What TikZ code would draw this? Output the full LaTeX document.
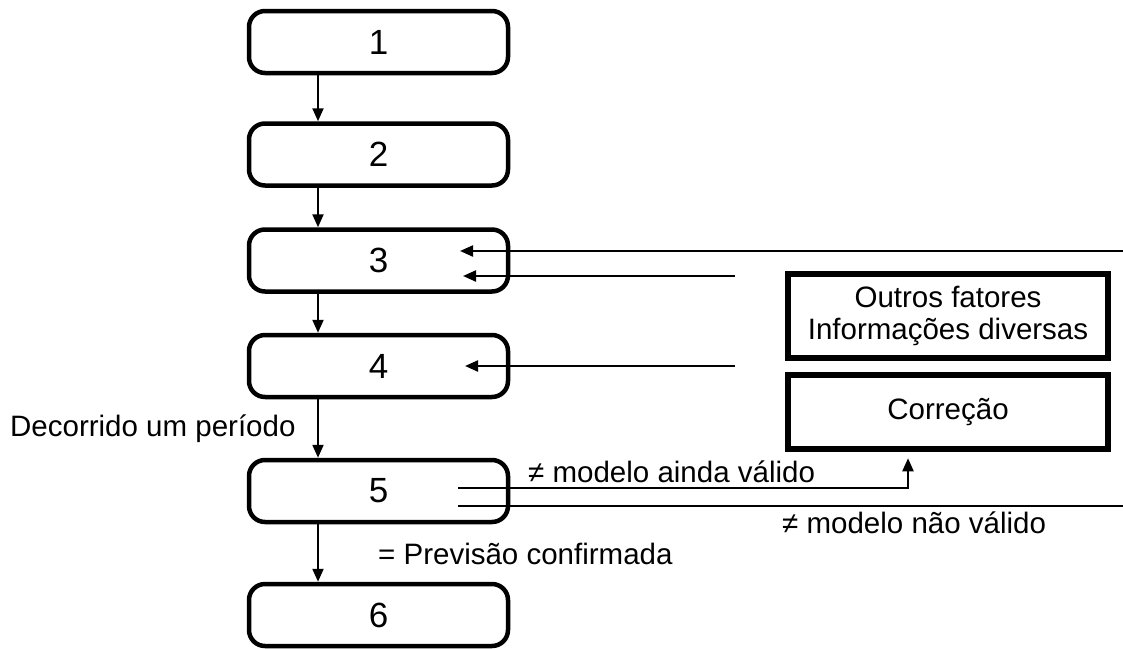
\documentclass[tikz,border=0pt]{standalone}
\usepackage{fontspec}
\setmainfont{Liberation Sans}
\usetikzlibrary{arrows.meta}
\begin{document}
\begin{tikzpicture}[x=1pt,y=-1pt,
  stepbox/.style={draw, line width=4.5pt, rounded corners=16pt, minimum width=259pt, minimum height=62pt, inner sep=0pt, font=\fontsize{35}{38}\selectfont},
  sidebox/.style={draw, line width=6.5pt, minimum width=320pt, inner sep=0pt, align=center, font=\fontsize{29.5}{32}\selectfont},
  lbl/.style={inner sep=0pt, anchor=base west, font=\fontsize{29.5}{32}\selectfont},
  arr/.style={line width=2.2pt, -{Triangle[length=13pt,width=11pt]}},
  ln/.style={line width=2.2pt}]
\useasboundingbox (0,0) rectangle (1123,648);
% main steps
\node[stepbox] (b1) at (378.5,42) {1};
\node[stepbox] (b2) at (378.5,154.5) {2};
\node[stepbox] (b3) at (378.5,260.5) {3};
\node[stepbox] (b4) at (378.5,366) {4};
\node[stepbox] (b5) at (378.5,491) {5};
\node[stepbox] (b6) at (378.5,615) {6};
% side boxes
\node[sidebox, minimum height=84pt] (out) at (948,316) {Outros fatores\\Informações diversas};
\node[sidebox, minimum height=74pt] (cor) at (948,412) {Correção};
% vertical connectors
\coordinate (ax) at (318,0);
\draw[arr] (b1.south -| ax) -- (b2.north -| ax);
\draw[arr] (b2.south -| ax) -- (b3.north -| ax);
\draw[arr] (b3.south -| ax) -- (b4.north -| ax);
\draw[arr] (b4.south -| ax) -- (b5.north -| ax);
\draw[arr] (b5.south -| ax) -- (b6.north -| ax);
% incoming arrows
\coordinate (r1) at (1123,251);
\coordinate (t1) at (460,251);
\coordinate (r2) at (735,276);
\coordinate (t2) at (463,276);
\coordinate (r3) at (735,366);
\coordinate (t3) at (465,366);
\draw[arr] (r1) -- (t1);
\draw[arr] (r2) -- (t2);
\draw[arr] (r3) -- (t3);
% outgoing from 5
\coordinate (s1) at (458,488);
\coordinate (s2) at (458,506);
\coordinate (e2) at (1123,506);
\coordinate (cx) at (908,0);
\draw[arr] (s1) -| ([yshift=-6pt]cor.south -| cx);
\draw[ln] (s2) -- (e2);
% labels
\node[lbl] (l1) at (10,436) {Decorrido um período};
\node[lbl] (l2) at (378,564) {= Previsão confirmada};
\node[lbl] (l3) at (528,482) {≠ modelo ainda válido};
\node[lbl] (l4) at (782,533) {≠ modelo não válido};
\end{tikzpicture}
\end{document}
